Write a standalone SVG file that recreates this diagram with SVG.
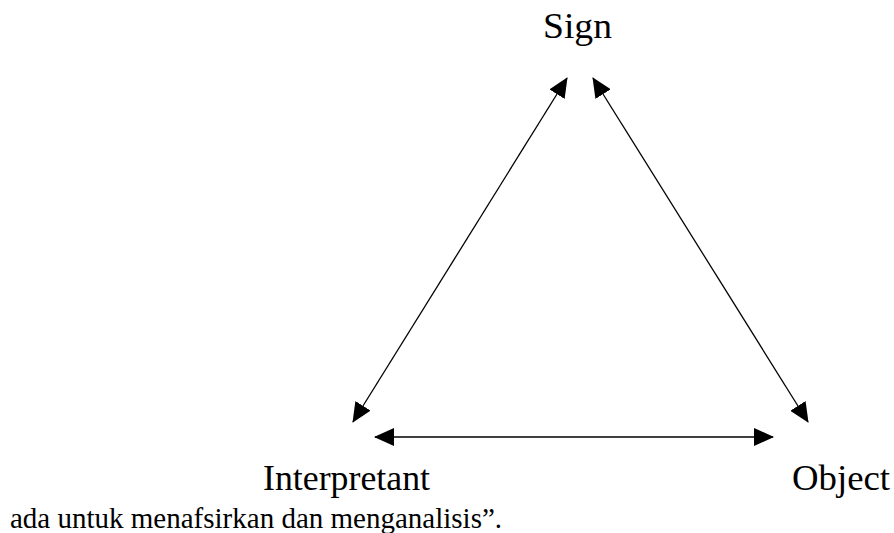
<svg xmlns="http://www.w3.org/2000/svg" width="894" height="533" viewBox="0 0 894 533">
  <style>
    .label { font-size: 36px; fill: #000; }
    .body { font-size: 29px; fill: #000; }
    .conn { stroke: #000; stroke-width: 1.3; fill: none; marker-start: url(#ah); marker-end: url(#ah); }
  </style>
  <defs>
    <marker id="ah" viewBox="0 0 20 18" refX="19" refY="9" markerWidth="20" markerHeight="18" markerUnits="userSpaceOnUse" orient="auto-start-reverse">
      <path d="M0,0 L20,9 L0,18 z" fill="#000"/>
    </marker>
  </defs>
  <rect width="894" height="533" fill="#fff"/>
  <g id="connectors">
    <line class="conn" x1="567" y1="78" x2="353" y2="422"/>
    <line class="conn" x1="593" y1="78" x2="808" y2="422"/>
    <line class="conn" x1="375" y1="437" x2="773" y2="437"/>
  </g>
  <g id="sign">
    <text class="label" font-family="Liberation Serif, DejaVu Serif, serif" x="543" y="38" textLength="69" lengthAdjust="spacingAndGlyphs">Sign</text>
  </g>
  <g id="interpretant">
    <text class="label" font-family="Liberation Serif, DejaVu Serif, serif" x="263" y="490" textLength="167" lengthAdjust="spacingAndGlyphs">Interpretant</text>
  </g>
  <g id="object">
    <text class="label" font-family="Liberation Serif, DejaVu Serif, serif" x="792" y="490" textLength="98" lengthAdjust="spacingAndGlyphs">Object</text>
  </g>
  <g id="caption">
    <text class="body" font-family="Liberation Serif, DejaVu Serif, serif" x="10" y="528">ada untuk menafsirkan dan menganalisis”.</text>
  </g>
</svg>
